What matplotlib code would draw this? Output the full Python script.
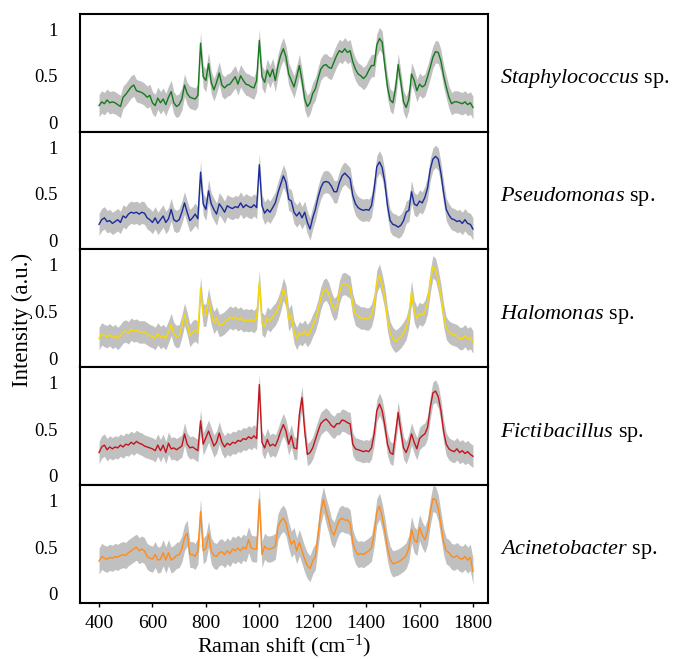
import numpy as np
import matplotlib.pyplot as plt

plt.rcParams['font.family'] = ['Liberation Serif', 'DejaVu Serif']
plt.rcParams['mathtext.fontset'] = 'custom'
plt.rcParams['mathtext.rm'] = 'Liberation Serif'
plt.rcParams['mathtext.it'] = 'Liberation Serif:italic'

# Raman shift grid (cm-1), one reading every 10 cm-1
raman_shift = np.arange(400, 1801, 10)

# Mean intensities, 400 -> 1800 cm-1
staphylococcus = [
    0.18, 0.22, 0.20, 0.24, 0.21, 0.22, 0.21, 0.19, 0.17, 0.27,
    0.30, 0.34, 0.38, 0.40, 0.34, 0.33, 0.32, 0.30, 0.27, 0.29,
    0.21, 0.18, 0.26, 0.21, 0.25, 0.19, 0.27, 0.33, 0.21, 0.17,
    0.19, 0.25, 0.40, 0.31, 0.27, 0.26, 0.25, 0.29, 0.85, 0.49,
    0.45, 0.63, 0.43, 0.35, 0.43, 0.53, 0.40, 0.37, 0.40, 0.41,
    0.45, 0.49, 0.41, 0.50, 0.45, 0.41, 0.40, 0.38, 0.37, 0.45,
    0.88, 0.49, 0.43, 0.56, 0.49, 0.57, 0.45, 0.61, 0.72, 0.79,
    0.70, 0.52, 0.45, 0.38, 0.49, 0.61, 0.45, 0.25, 0.17, 0.21,
    0.31, 0.36, 0.47, 0.57, 0.61, 0.62, 0.59, 0.58, 0.65, 0.72,
    0.77, 0.75, 0.79, 0.75, 0.77, 0.65, 0.57, 0.52, 0.50, 0.47,
    0.50, 0.56, 0.61, 0.61, 0.83, 0.90, 0.86, 0.61, 0.38, 0.24,
    0.21, 0.36, 0.62, 0.43, 0.22, 0.16, 0.25, 0.52, 0.45, 0.34,
    0.41, 0.38, 0.40, 0.49, 0.59, 0.70, 0.76, 0.75, 0.66, 0.50,
    0.38, 0.27, 0.20, 0.22, 0.22, 0.21, 0.20, 0.22, 0.19, 0.21,
    0.16,
]
pseudomonas = [
    0.17, 0.22, 0.24, 0.20, 0.21, 0.18, 0.20, 0.22, 0.19, 0.26,
    0.24, 0.28, 0.30, 0.29, 0.30, 0.28, 0.30, 0.29, 0.24, 0.22,
    0.19, 0.24, 0.18, 0.22, 0.26, 0.19, 0.23, 0.33, 0.22, 0.20,
    0.22, 0.30, 0.40, 0.30, 0.21, 0.24, 0.28, 0.23, 0.73, 0.39,
    0.33, 0.53, 0.39, 0.33, 0.28, 0.39, 0.35, 0.30, 0.37, 0.35,
    0.34, 0.36, 0.35, 0.40, 0.35, 0.38, 0.36, 0.35, 0.38, 0.35,
    0.81, 0.37, 0.29, 0.33, 0.30, 0.35, 0.40, 0.51, 0.60, 0.69,
    0.62, 0.44, 0.42, 0.30, 0.26, 0.30, 0.24, 0.30, 0.19, 0.12,
    0.24, 0.33, 0.46, 0.56, 0.62, 0.63, 0.62, 0.58, 0.52, 0.52,
    0.62, 0.69, 0.72, 0.69, 0.66, 0.48, 0.39, 0.35, 0.33, 0.32,
    0.33, 0.32, 0.37, 0.55, 0.79, 0.84, 0.78, 0.62, 0.37, 0.21,
    0.17, 0.16, 0.14, 0.16, 0.21, 0.30, 0.32, 0.52, 0.39, 0.37,
    0.42, 0.40, 0.46, 0.56, 0.76, 0.87, 0.90, 0.87, 0.72, 0.51,
    0.33, 0.27, 0.23, 0.22, 0.20, 0.21, 0.18, 0.22, 0.18, 0.17,
    0.12,
]
halomonas = [
    0.21, 0.26, 0.24, 0.23, 0.25, 0.22, 0.24, 0.21, 0.24, 0.28,
    0.29, 0.27, 0.31, 0.29, 0.30, 0.28, 0.28, 0.28, 0.26, 0.24,
    0.23, 0.21, 0.26, 0.22, 0.24, 0.21, 0.28, 0.36, 0.26, 0.23,
    0.24, 0.34, 0.47, 0.37, 0.24, 0.28, 0.30, 0.27, 0.75, 0.46,
    0.46, 0.63, 0.48, 0.38, 0.43, 0.35, 0.36, 0.38, 0.41, 0.44,
    0.42, 0.44, 0.41, 0.43, 0.40, 0.41, 0.40, 0.41, 0.39, 0.43,
    0.82, 0.37, 0.34, 0.43, 0.40, 0.44, 0.47, 0.53, 0.62, 0.74,
    0.66, 0.41, 0.46, 0.28, 0.21, 0.27, 0.25, 0.29, 0.24, 0.28,
    0.35, 0.41, 0.51, 0.64, 0.72, 0.74, 0.69, 0.59, 0.52, 0.55,
    0.71, 0.79, 0.80, 0.78, 0.76, 0.57, 0.47, 0.45, 0.43, 0.43,
    0.42, 0.42, 0.46, 0.57, 0.82, 0.89, 0.78, 0.64, 0.41, 0.27,
    0.21, 0.18, 0.20, 0.23, 0.27, 0.32, 0.44, 0.71, 0.50, 0.43,
    0.48, 0.46, 0.50, 0.60, 0.82, 0.98, 0.95, 0.83, 0.67, 0.46,
    0.32, 0.28, 0.26, 0.25, 0.24, 0.21, 0.21, 0.24, 0.20, 0.22,
    0.17,
]
fictibacillus = [
    0.25, 0.31, 0.33, 0.28, 0.31, 0.29, 0.31, 0.30, 0.33, 0.31,
    0.34, 0.33, 0.36, 0.34, 0.37, 0.35, 0.34, 0.32, 0.31, 0.30,
    0.29, 0.27, 0.33, 0.27, 0.33, 0.25, 0.35, 0.29, 0.30, 0.28,
    0.30, 0.32, 0.45, 0.34, 0.30, 0.31, 0.29, 0.27, 0.59, 0.34,
    0.41, 0.48, 0.40, 0.32, 0.36, 0.46, 0.36, 0.31, 0.35, 0.33,
    0.36, 0.35, 0.38, 0.37, 0.40, 0.39, 0.42, 0.40, 0.43, 0.40,
    0.98, 0.36, 0.30, 0.39, 0.32, 0.34, 0.32, 0.39, 0.48, 0.55,
    0.48, 0.34, 0.43, 0.30, 0.29, 0.66, 0.84, 0.48, 0.23, 0.25,
    0.30, 0.39, 0.48, 0.56, 0.59, 0.61, 0.58, 0.54, 0.52, 0.56,
    0.56, 0.60, 0.59, 0.57, 0.56, 0.34, 0.29, 0.28, 0.27, 0.26,
    0.27, 0.26, 0.30, 0.45, 0.70, 0.77, 0.70, 0.54, 0.34, 0.25,
    0.23, 0.45, 0.68, 0.48, 0.30, 0.25, 0.33, 0.45, 0.36, 0.29,
    0.40, 0.43, 0.45, 0.52, 0.73, 0.89, 0.91, 0.85, 0.70, 0.48,
    0.34, 0.29, 0.27, 0.26, 0.29, 0.25, 0.27, 0.24, 0.26, 0.23,
    0.21,
]
acinetobacter = [
    0.35, 0.40, 0.38, 0.37, 0.39, 0.38, 0.40, 0.39, 0.41, 0.42,
    0.41, 0.44, 0.46, 0.48, 0.50, 0.46, 0.48, 0.46, 0.40, 0.38,
    0.37, 0.42, 0.36, 0.37, 0.44, 0.36, 0.44, 0.36, 0.38, 0.41,
    0.42, 0.48, 0.60, 0.65, 0.42, 0.42, 0.40, 0.46, 0.88, 0.46,
    0.49, 0.64, 0.46, 0.41, 0.40, 0.44, 0.45, 0.42, 0.46, 0.43,
    0.48, 0.46, 0.49, 0.46, 0.50, 0.48, 0.58, 0.49, 0.48, 0.48,
    1.01, 0.42, 0.51, 0.48, 0.48, 0.49, 0.51, 0.72, 0.78, 0.81,
    0.76, 0.63, 0.53, 0.57, 0.46, 0.55, 0.46, 0.37, 0.30, 0.27,
    0.35, 0.40, 0.63, 0.88, 1.01, 0.89, 0.79, 0.67, 0.63, 0.72,
    0.79, 0.81, 0.79, 0.79, 0.76, 0.55, 0.46, 0.42, 0.43, 0.42,
    0.44, 0.46, 0.49, 0.65, 0.88, 0.94, 0.83, 0.67, 0.49, 0.37,
    0.32, 0.33, 0.34, 0.36, 0.38, 0.41, 0.49, 0.69, 0.58, 0.55,
    0.71, 0.63, 0.58, 0.67, 0.87, 1.02, 1.01, 0.92, 0.74, 0.56,
    0.46, 0.44, 0.40, 0.39, 0.41, 0.38, 0.37, 0.40, 0.36, 0.39,
    0.24,
]

species = ['Staphylococcus', 'Pseudomonas', 'Halomonas', 'Fictibacillus', 'Acinetobacter']
spectra = [staphylococcus, pseudomonas, halomonas, fictibacillus, acinetobacter]
# half width of the grey spread band for each species
spread = [0.12, 0.12, 0.12, 0.12, 0.14]
colors = ['#157a1c', '#1a2b9c', '#f7d900', '#c4141c', '#ff8c1a']

fig, axes = plt.subplots(5, 1, sharex=True, figsize=(6.73, 6.59), dpi=100)
fig.subplots_adjust(left=0.119, right=0.725, top=0.979, bottom=0.085, hspace=0)

for ax, name, y, sd, c in zip(axes, species, spectra, spread, colors):
    y = np.array(y)
    ax.fill_between(raman_shift, y - sd, y + sd, color='#c0c0c0', lw=0)
    ax.plot(raman_shift, y, color=c, lw=1.0)
    ax.set_ylim(-0.10, 1.165)
    ax.set_yticks([0, 0.5, 1])
    ax.set_yticklabels(['0', '0.5', '1'])
    ax.tick_params(axis='y', length=0, pad=16, labelsize=13.5)
    for s in ax.spines.values():
        s.set_linewidth(1.5)
    ax.text(1.03, 0.45, r'$\it{' + name + '}$ sp.', transform=ax.transAxes,
            ha='left', va='center', fontsize=16)

axes[-1].set_xlim(329, 1856)
axes[-1].set_xticks([400, 600, 800, 1000, 1200, 1400, 1600, 1800])
axes[-1].tick_params(axis='x', length=3, width=1, pad=6, labelsize=14, direction='out')
for ax in axes[:-1]:
    ax.tick_params(axis='x', length=0)

axes[-1].set_xlabel('Raman shift (cm$^{-1}$)', fontsize=16, labelpad=0)
fig.text(0.033, 0.515, 'Intensity (a.u.)', rotation=90, ha='center', va='center', fontsize=16.5)

fig.savefig('out.png', dpi=100)
